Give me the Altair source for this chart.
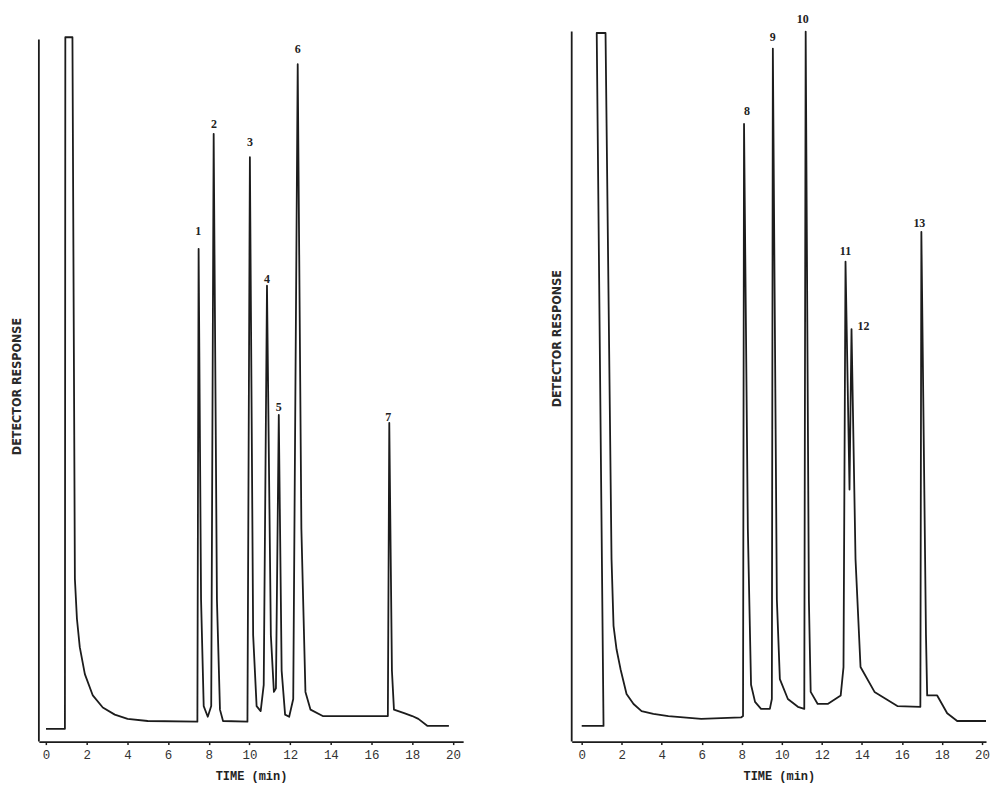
import altair as alt
import pandas as pd

# ---------------- data ----------------
# Left chromatogram (peaks 1-7): trace vertices, time (min) vs detector response (arbitrary, 0-100)
left_time = [0.0, 0.93, 0.95, 1.30, 1.42, 1.52, 1.66, 1.91, 2.30, 2.79, 3.38, 4.01, 5.00, 7.44,
             7.50, 7.62, 7.75, 7.95, 8.12, 8.24, 8.40, 8.55, 8.70, 9.90,
             10.02, 10.18, 10.35, 10.55, 10.70, 10.86, 11.05, 11.20, 11.30,
             11.44, 11.58, 11.75, 11.95, 12.15, 12.37, 12.55, 12.75, 13.00,
             13.60, 16.80, 16.87, 17.00, 17.10, 17.60, 18.00, 18.30, 18.75, 19.80]
left_resp = [1.8, 1.8, 99.2, 99.2, 22.9, 17.3, 13.3, 9.5, 6.5, 4.8, 3.8, 3.2, 2.9, 2.8,
             69.4, 20.0, 5.0, 3.5, 5.0, 85.6, 20.0, 4.5, 2.9, 2.8,
             82.3, 15.0, 5.0, 4.3, 8.0, 64.2, 15.0, 7.0, 7.5,
             46.0, 10.0, 3.8, 3.5, 6.0, 95.4, 30.0, 7.0, 4.5,
             3.6, 3.6, 44.9, 10.0, 4.5, 4.0, 3.6, 3.2, 2.2, 2.2]
left_axis_top = 98.9

left_peak_labels = ["1", "2", "3", "4", "5", "6", "7"]
left_label_time = [7.48, 8.26, 10.02, 10.86, 11.44, 12.37, 16.82]
left_label_resp = [71.9, 87.0, 84.4, 65.2, 47.1, 97.6, 45.7]

# Right chromatogram (peaks 8-13)
right_time = [0.0, 1.09, 0.75, 1.19, 1.49, 1.59, 1.74, 1.94, 2.24, 2.59, 2.99, 3.58, 4.33, 5.97,
              7.96, 8.06, 8.11, 8.30, 8.46, 8.66, 8.96, 9.40, 9.50,
              9.55, 9.75, 9.90, 10.30, 10.80, 11.12, 11.19, 11.35, 11.44,
              11.79, 12.29, 12.94, 13.08, 13.18, 13.38, 13.48, 13.68, 13.93,
              14.63, 15.77, 16.92, 16.97, 17.20, 17.26, 17.76, 18.26, 18.76, 20.2]
right_resp = [2.2, 2.2, 99.8, 99.8, 25.7, 16.3, 13.0, 10.2, 6.7, 5.3, 4.3, 3.9, 3.6, 3.2,
              3.4, 3.6, 87.0, 30.0, 8.0, 5.6, 4.6, 4.6, 6.0,
              97.6, 20.0, 8.8, 6.0, 4.9, 4.6, 100.0, 20.0, 7.0,
              5.3, 5.3, 6.5, 10.5, 67.6, 35.5, 58.1, 25.7, 10.5,
              7.0, 5.0, 4.9, 71.8, 15.0, 6.5, 6.5, 4.0, 2.9, 2.9]
right_axis_top = 100.0

right_peak_labels = ["8", "9", "10", "11", "12", "13"]
right_label_time = [8.26, 9.55, 11.04, 13.18, 14.08, 16.87]
right_label_resp = [88.8, 99.3, 101.8, 69.1, 58.5, 73.1]

x_ticks = [0, 2, 4, 6, 8, 10, 12, 14, 16, 18, 20]
x_title = "TIME (min)"
y_title = "DETECTOR RESPONSE"

INK = "#1c1c1c"
Y_MAX = 103.1
PLOT_H = 735


def panel(times, resp, ax_top, lt, lr, labs, xdom, width, title_x, title_y):
    trace = pd.DataFrame({"t": times, "r": resp, "i": list(range(len(times)))})
    axis_df = pd.DataFrame({"t": [xdom[0]], "r": [0.0], "r2": [ax_top]})
    lab_df = pd.DataFrame({"t": lt, "r": lr, "lab": labs})

    x = alt.X("t:Q", scale=alt.Scale(domain=xdom, nice=False, zero=False),
              axis=alt.Axis(values=x_ticks, title=x_title, grid=False, domainColor=INK,
                            domainWidth=1.8, tickColor=INK, tickSize=3, tickWidth=1.5,
                            labelFont="Liberation Mono", labelFontSize=12.5, labelColor="#333",
                            labelPadding=4, titleFont="Liberation Mono", titleFontSize=12,
                            titleFontWeight="bold", titleColor="#222", titlePadding=10,
                            labelFlush=False))
    y = alt.Y("r:Q", scale=alt.Scale(domain=[0, Y_MAX], nice=False, zero=True),
              axis=alt.Axis(title=y_title, labels=False, ticks=False, domain=False, grid=False,
                            titleFont="DejaVu Sans Condensed", titleFontSize=12.5,
                            titleFontWeight="bold", titleColor="#2a2a2a",
                            titleAngle=270, titleBaseline="middle", titleAlign="center",
                            titleX=title_x, titleY=title_y))

    line = alt.Chart(trace).mark_line(color=INK, strokeWidth=1.8, strokeJoin="round").encode(
        x=x, y=y, order=alt.Order("i:Q"))
    rule = alt.Chart(axis_df).mark_rule(color=INK, strokeWidth=1.8).encode(
        x=x, y=y, y2="r2:Q")
    text = alt.Chart(lab_df).mark_text(font="Liberation Serif", fontSize=12, fontWeight="bold",
                                       color="#222").encode(x=x, y=y, text="lab:N")
    return alt.layer(rule, line, text).properties(width=width, height=PLOT_H)


left = panel(left_time, left_resp, left_axis_top, left_label_time, left_label_resp,
             left_peak_labels, [-0.35, 20.5], 426, -22, 378)
right = panel(right_time, right_resp, right_axis_top, right_label_time, right_label_resp,
              right_peak_labels, [-0.5, 20.2], 416, -15, 330)

chart = alt.hconcat(left, right, spacing=88).properties(
    padding={"left": 3, "top": 0, "right": 0, "bottom": 0},
    background="white",
).configure_view(stroke=None)

chart.save("out.html", embed_options={"renderer": "svg", "actions": False})
